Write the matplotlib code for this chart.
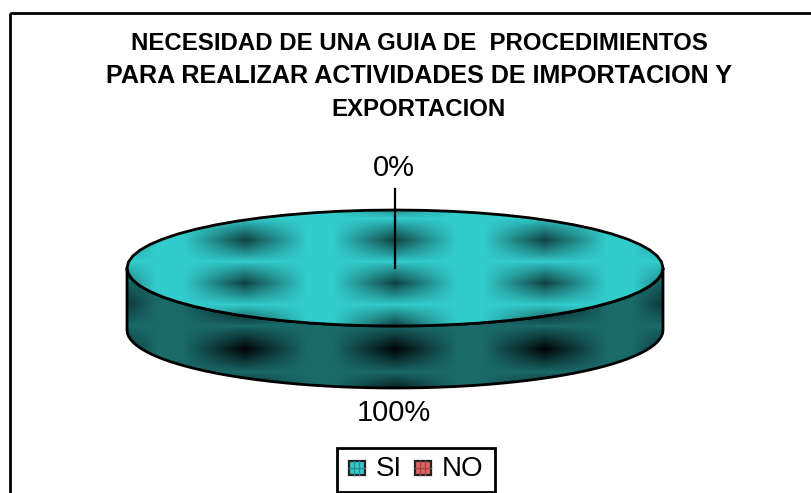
import matplotlib
matplotlib.use("Agg")
import matplotlib.pyplot as plt
import numpy as np
from matplotlib.patches import Rectangle, PathPatch
from matplotlib.path import Path

title_lines = ["NECESIDAD DE UNA GUIA DE  PROCEDIMIENTOS",
               "PARA REALIZAR ACTIVIDADES DE IMPORTACION Y",
               "EXPORTACION"]
categories = ["SI", "NO"]
values = [100, 0]
labels = ["100%", "0%"]
colors = ["#33CCCC", "#E06666"]

plt.rcParams['font.family'] = ['Liberation Sans', 'DejaVu Sans']

W, H = 812, 493
fig = plt.figure(figsize=(W/100, H/100), dpi=100)
ax = fig.add_axes([0, 0, 1, 1])

# pie geometry
cx, cy, rx, ry, depth = 395, 268, 268, 58, 62


def texture(x, y, period_y, y0):
    # tiled dark spots, the old Excel "shaded" fill
    dx = np.abs((x - 245 + 75) % 150 - 75) / 62
    dy = np.abs((y - y0 + period_y/2) % period_y - period_y/2) / (period_y/2)
    px = np.clip(1 - dx, 0, 1)
    py = np.clip(1 - dy, 0, 1)
    return px * py**0.9


xx, yy = np.meshgrid(np.arange(0, W) + 0.5, np.arange(0, H) + 0.5)
base = np.array(matplotlib.colors.to_rgb(colors[0]))

# slices from the values, angles clockwise from 12 o'clock
fractions = np.array(values, dtype=float) / sum(values)
edges = np.concatenate([[0], np.cumsum(fractions)]) * 2 * np.pi


def ellipse_pts(a0, a1, n=61):
    t = np.linspace(a0, a1, n)
    return cx + rx * np.sin(t), cy - ry * np.cos(t)


# side wall, only the front half shows
ex, ey = ellipse_pts(np.pi/2, 3*np.pi/2)
side_x = np.concatenate([ex, ex[::-1], ex[:1]])
side_y = np.concatenate([ey, ey[::-1] + depth, ey[:1]])
side_patch = PathPatch(Path(np.column_stack([side_x, side_y]), closed=True),
                       fc="none", ec="black", lw=2, zorder=3)
ax.add_patch(side_patch)
shade = 0.52 * (1 - 0.97 * texture(xx, yy, 46, 349))[..., None]
img = ax.imshow(shade * base, extent=(0, W, H, 0), zorder=2, aspect="auto")
img.set_clip_path(side_patch)

# top face
tx, ty = ellipse_pts(edges[0], edges[1])
top_patch = PathPatch(Path(np.column_stack([tx, ty])), fc="none", ec="black", lw=2, zorder=5)
ax.add_patch(top_patch)
shade = (1 - 0.68 * texture(xx, yy, 43, 240))[..., None]
img = ax.imshow(shade * base, extent=(0, W, H, 0), zorder=4, aspect="auto")
img.set_clip_path(top_patch)

ax.set_xlim(0, W)
ax.set_ylim(H, 0)
ax.axis("off")

# outer frame
ax.add_patch(Rectangle((10.5, 12.5), 830, 520, fc="none", ec="black", lw=2, zorder=1))

for line, y, fs in zip(title_lines, [43, 76, 109], [17.3, 18.1, 17.3]):
    ax.text(419, y, line, ha="center", va="center", fontsize=fs,
            fontweight="bold", color="black")

# leader line of the empty slice
ax.plot([cx, cx], [189, cy], color="black", lw=1.6, zorder=6)

ax.text(394, 168, labels[1], ha="center", va="center", fontsize=21)
ax.text(394, 413, labels[0], ha="center", va="center", fontsize=21)

# legend
ax.add_patch(Rectangle((337.5, 447.5), 158, 44, fc="white", ec="black", lw=2, zorder=6))
for name, col, bx, tx_ in zip(categories, colors, [349, 415], [376, 442]):
    ax.add_patch(Rectangle((bx, 461), 16, 14, fc=col, ec="#222222", lw=1.6, zorder=7))
    c = np.array(matplotlib.colors.to_rgb(col)) * 0.7
    ax.plot([bx + 5.5, bx + 5.5], [461, 475], color=c, lw=1, zorder=7)
    ax.plot([bx + 10.5, bx + 10.5], [461, 475], color=c, lw=1, zorder=7)
    ax.plot([bx, bx + 16], [468, 468], color=c, lw=1, zorder=7)
    ax.text(tx_, 469, name, ha="left", va="center", fontsize=20, zorder=7)

fig.savefig("out.png", dpi=100)
